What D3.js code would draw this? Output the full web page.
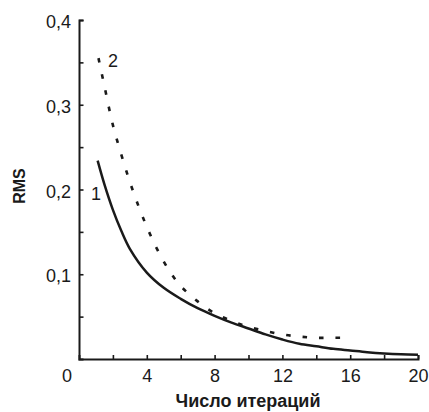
<!DOCTYPE html>
<html><head><meta charset="utf-8">
<script src="https://cdn.jsdelivr.net/npm/d3@7"></script>
<style>
html,body{margin:0;padding:0;background:#fff;}
svg{display:block;font-family:"Liberation Sans",Arial,Helvetica,sans-serif;}
</style></head>
<body>
<svg id="chart" width="429" height="412"></svg>
<script>
// Data
const curve1X = [1.1, 1.5, 2, 2.5, 3, 4, 5, 6, 7, 8, 9, 10, 11, 12, 13, 14, 15, 16, 17, 18, 19, 20];
const curve1Y = [0.234, 0.206, 0.176, 0.151, 0.130, 0.102, 0.084, 0.071, 0.060, 0.051, 0.043, 0.036, 0.029, 0.023, 0.018, 0.015, 0.012, 0.010, 0.008, 0.0065, 0.0055, 0.005];
const curve2X = [1.15, 1.5, 2, 2.5, 3, 3.5, 4, 4.5, 5, 5.5, 6, 7, 8, 9, 10, 11, 12, 13, 14, 15, 15.6];
const curve2Y = [0.355, 0.322, 0.276, 0.241, 0.209, 0.181, 0.156, 0.134, 0.115, 0.099, 0.086, 0.068, 0.054, 0.045, 0.038, 0.033, 0.029, 0.0265, 0.025, 0.025, 0.025];
const xTicks = [0, 2, 4, 6, 8, 10, 12, 14, 16, 18, 20];
const xTickLabels = {0: "0", 4: "4", 8: "8", 12: "12", 16: "16", 20: "20"};
const yTicks = [0.05, 0.1, 0.15, 0.2, 0.25, 0.3, 0.35, 0.4];
const yTickLabels = {0.1: "0,1", 0.2: "0,2", 0.3: "0,3", 0.4: "0,4"};
const xTitle = "Число итераций";
const yTitle = "RMS";
const curveLabels = [{text: "1", x: 1.0, y: 0.188}, {text: "2", x: 2.0, y: 0.345}];

const svg = d3.select("#chart");
const x = d3.scaleLinear().domain([0, 20]).range([79, 418]);
const y = d3.scaleLinear().domain([0, 0.4]).range([359, 20]);
const ink = "#1a1a1a";

// X axis
const xAxis = svg.append("g").attr("transform", `translate(0,${y(0)})`)
  .call(d3.axisBottom(x).tickValues(xTicks).tickSize(-4).tickPadding(10)
    .tickFormat(d => xTickLabels[d] || ""));
xAxis.select(".domain").attr("stroke", ink).attr("stroke-width", 2);
xAxis.selectAll(".tick line").attr("stroke", ink).attr("stroke-width", 1.6);
xAxis.selectAll(".tick").filter(d => d === 0).select("line").remove();
xAxis.selectAll(".tick text").attr("fill", ink).attr("font-size", 18)
  .attr("font-family", "Liberation Sans, Arial, sans-serif")
  .attr("dx", d => d === 0 ? -12.5 : 0);

// Y axis
const yAxis = svg.append("g").attr("transform", `translate(${x(0)},0)`)
  .call(d3.axisLeft(y).tickValues(yTicks).tickSize(-4.5).tickPadding(8)
    .tickFormat(d => yTickLabels[d] || ""));
yAxis.select(".domain").attr("stroke", ink).attr("stroke-width", 2);
yAxis.selectAll(".tick line").attr("stroke", ink).attr("stroke-width", 1.6);
yAxis.selectAll(".tick text").attr("fill", ink).attr("font-size", 18)
  .attr("font-family", "Liberation Sans, Arial, sans-serif").attr("dy", "0.42em");

// Curves
const line = d3.line().x(d => x(d[0])).y(d => y(d[1])).curve(d3.curveCatmullRom.alpha(0.5));
svg.append("path").datum(d3.zip(curve1X, curve1Y)).attr("d", line)
  .attr("fill", "none").attr("stroke", ink).attr("stroke-width", 2.5);
svg.append("path").datum(d3.zip(curve2X, curve2Y)).attr("d", line)
  .attr("fill", "none").attr("stroke", ink).attr("stroke-width", 2.6)
  .attr("stroke-dasharray", "4.5,12");

// Curve labels
svg.selectAll(".clabel").data(curveLabels).enter().append("text")
  .attr("x", d => x(d.x)).attr("y", d => y(d.y))
  .attr("font-size", 18).attr("fill", ink).attr("text-anchor", "middle")
  .text(d => d.text);

// Titles
svg.append("text").attr("x", 248).attr("y", 407).attr("text-anchor", "middle")
  .attr("font-size", 18).attr("font-weight", "bold").attr("fill", ink).text(xTitle);
svg.append("text").attr("transform", "translate(25,186) rotate(-90)").attr("text-anchor", "middle")
  .attr("font-size", 16).attr("font-weight", "bold").attr("fill", ink).text(yTitle);
</script>
</body></html>
